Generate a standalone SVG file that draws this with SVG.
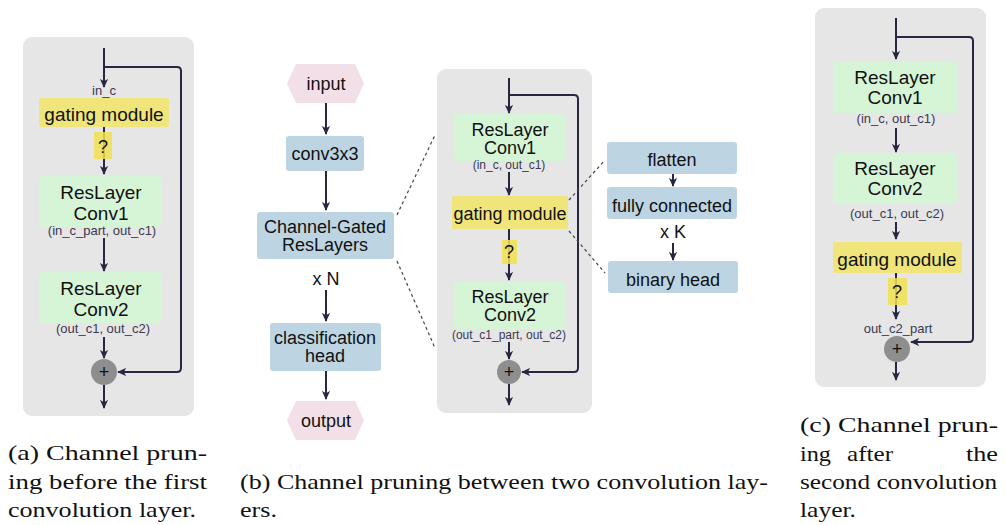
<svg xmlns="http://www.w3.org/2000/svg" width="1006" height="525" viewBox="0 0 1006 525">
<style>
.bg{fill:#e6e6e6}
.green{fill:#d6f5d6}
.yellow{fill:#f0e57a}
.q{fill:#f0e050;fill-opacity:0.85}
.blue{fill:#bdd5e3}
.pink{fill:#f2dfe7}
.plus{fill:#8e8e8e}
.t{font-family:"Liberation Sans",Arial,sans-serif;fill:#111;text-anchor:middle}
.big{font-size:19px}
.mid{font-size:18px}
.sm{font-size:13px;fill:#3a3a50}
.sm12{font-size:12px;fill:#3a3a50}
.line{stroke:#272742;stroke-width:2;fill:none}
.arr{stroke:#272742;stroke-width:2;fill:none;marker-end:url(#ah)}
.dash{stroke:#444;stroke-width:1.2;stroke-dasharray:3,3;fill:none}
.cap{font-family:"Liberation Serif","Times New Roman",serif;font-size:21px;fill:#111}
</style>
<defs>
<marker id="ah" viewBox="0 0 10 10" refX="9" refY="5" markerWidth="9" markerHeight="9" markerUnits="userSpaceOnUse" orient="auto">
<path d="M0,0.5 L10,5 L0,9.5 L2.5,5 z" fill="#272742"/>
</marker>
</defs>

<!-- Panel (a) -->
<g id="panelA">
<rect class="bg" x="23" y="37" width="171" height="379" rx="9"/>
</g>
<g id="connectorsA">
<path class="arr" d="M104,48 V87"/>
<path class="arr" d="M104,67 H177 Q181,67 181,71 V368 Q181,372 177,372 H118"/>
<path class="arr" d="M104,127 V174"/>
<path class="arr" d="M104,238 V271"/>
<path class="arr" d="M104,337 V358"/>
<path class="arr" d="M104,385 V408"/>
</g>
<g id="a_inc"><text class="t sm" x="104" y="95">in_c</text></g>
<g id="a_gate"><rect class="yellow" x="39" y="98" width="130" height="29" rx="2"/><text class="t big" x="104" y="121">gating module</text></g>
<g id="a_q"><rect class="q" x="94" y="132" width="18" height="27"/><text class="t mid" x="103" y="153">?</text></g>
<g id="a_conv1"><rect class="green" x="39" y="176" width="123" height="51" rx="3"/><text class="t big" x="101" y="199">ResLayer</text><text class="t big" x="101" y="220">Conv1</text><text class="t sm" x="102" y="235">(in_c_part, out_c1)</text></g>
<g id="a_conv2"><rect class="green" x="39" y="272" width="123" height="51" rx="3"/><text class="t big" x="101" y="295">ResLayer</text><text class="t big" x="101" y="316">Conv2</text><text class="t sm" x="103" y="333">(out_c1, out_c2)</text></g>
<g id="a_plus"><circle class="plus" cx="104" cy="372" r="13"/><text class="t mid" x="104" y="378">+</text></g>

<!-- Panel (b) left column -->
<g id="connectorsB1">
<path class="arr" d="M326,103 V134"/>
<path class="arr" d="M326,171 V210"/>
<path class="arr" d="M326,290 V321"/>
<path class="arr" d="M326,371 V399"/>
<path class="dash" d="M397,215 L435,135"/>
<path class="dash" d="M397,261 L435,348"/>
</g>
<g id="b_input"><polygon class="pink" points="287,83.5 296,64 355,64 364,83.5 355,103 296,103"/><text class="t mid" x="326" y="90">input</text></g>
<g id="b_conv"><rect class="blue" x="286" y="136" width="78" height="35" rx="3"/><text class="t mid" x="325" y="160">conv3x3</text></g>
<g id="b_cg"><rect class="blue" x="257" y="212" width="137" height="47" rx="3"/><text class="t mid" x="325" y="233">Channel-Gated</text><text class="t mid" x="325" y="251">ResLayers</text></g>
<g id="b_xn"><text class="t mid" x="326" y="285">x N</text></g>
<g id="b_cls"><rect class="blue" x="270" y="323" width="111" height="48" rx="3"/><text class="t mid" x="325" y="344">classification</text><text class="t mid" x="325" y="362">head</text></g>
<g id="b_output"><polygon class="pink" points="287,420.5 296,401 355,401 364,420.5 355,440 296,440"/><text class="t mid" x="326" y="427">output</text></g>

<!-- Panel (b) block -->
<g id="panelB"><rect class="bg" x="437" y="69" width="155" height="344" rx="9"/></g>
<g id="connectorsB2">
<path class="arr" d="M509,78 V113"/>
<path class="arr" d="M509,95 H574 Q578,95 578,99 V368 Q578,372 574,372 H522"/>
<path class="arr" d="M509,172 V195"/>
<path class="arr" d="M509,229 V280"/>
<path class="arr" d="M509,342 V359"/>
<path class="arr" d="M509,384 V405"/>
<path class="arr" d="M673,174 V186"/>
<path class="arr" d="M673,243 V260"/>
<path class="dash" d="M569,200 L605,160"/>
<path class="dash" d="M569,231 L605,273"/>
</g>
<g id="b_conv1"><rect class="green" x="454" y="114" width="111" height="47" rx="3"/><text class="t mid" x="510" y="136">ResLayer</text><text class="t mid" x="510" y="154">Conv1</text><text class="t sm12" x="509" y="169">(in_c, out_c1)</text></g>
<g id="b_gate"><rect class="yellow" x="452" y="196" width="116" height="33" rx="2"/><text class="t mid" x="510" y="220">gating module</text></g>
<g id="b_q"><rect class="q" x="502" y="240" width="15" height="24"/><text class="t mid" x="509" y="258">?</text></g>
<g id="b_conv2"><rect class="green" x="454" y="282" width="111" height="47" rx="3"/><text class="t mid" x="510" y="303">ResLayer</text><text class="t mid" x="510" y="321">Conv2</text><text class="t sm12" x="509" y="339">(out_c1_part, out_c2)</text></g>
<g id="b_plus"><circle class="plus" cx="509" cy="372" r="12"/><text class="t mid" x="509" y="378">+</text></g>
<g id="b_flatten"><rect class="blue" x="607" y="142" width="130" height="32" rx="3"/><text class="t mid" x="672" y="166">flatten</text></g>
<g id="b_fc"><rect class="blue" x="607" y="187" width="130" height="32" rx="3"/><text class="t mid" x="672" y="212">fully connected</text></g>
<g id="b_xk"><text class="t mid" x="673" y="238">x K</text></g>
<g id="b_bin"><rect class="blue" x="608" y="261" width="130" height="32" rx="3"/><text class="t mid" x="673" y="286">binary head</text></g>

<!-- Panel (c) -->
<g id="panelC"><rect class="bg" x="815" y="8" width="171" height="379" rx="9"/></g>
<g id="connectorsC">
<path class="arr" d="M896,18 V59"/>
<path class="arr" d="M896,37 H969 Q973,37 973,41 V338 Q973,342 969,342 H911"/>
<path class="arr" d="M896,128 V152"/>
<path class="arr" d="M896,222 V239"/>
<path class="arr" d="M896,273 V319"/>
<path class="arr" d="M896,362 V380"/>
</g>
<g id="c_conv1"><rect class="green" x="833" y="62" width="124" height="51" rx="3"/><text class="t big" x="895" y="84">ResLayer</text><text class="t big" x="895" y="104">Conv1</text><text class="t sm" x="896" y="123">(in_c, out_c1)</text></g>
<g id="c_conv2"><rect class="green" x="833" y="153" width="124" height="50" rx="3"/><text class="t big" x="895" y="175">ResLayer</text><text class="t big" x="895" y="195">Conv2</text><text class="t sm" x="897" y="218">(out_c1, out_c2)</text></g>
<g id="c_gate"><rect class="yellow" x="833" y="242" width="129" height="31" rx="2"/><text class="t big" x="897" y="266">gating module</text></g>
<g id="c_q"><rect class="q" x="888" y="278" width="19" height="27"/><text class="t mid" x="897" y="298">?</text></g>
<g id="c_out"><text class="t sm" x="898" y="333">out_c2_part</text></g>
<g id="c_plus"><circle class="plus" cx="897" cy="349" r="13"/><text class="t mid" x="897" y="355">+</text></g>

<!-- Captions -->
<g id="captions">
<text class="cap" x="8" y="460" textLength="199" lengthAdjust="spacingAndGlyphs">(a) Channel prun-</text>
<text class="cap" x="8" y="489" textLength="199" lengthAdjust="spacingAndGlyphs">ing before the first</text>
<text class="cap" x="8" y="517" textLength="188" lengthAdjust="spacingAndGlyphs">convolution layer.</text>
<text class="cap" x="240" y="489" textLength="528" lengthAdjust="spacingAndGlyphs">(b) Channel pruning between two convolution lay-</text>
<text class="cap" x="240" y="517" textLength="37" lengthAdjust="spacingAndGlyphs">ers.</text>
<text class="cap" x="800" y="432" textLength="198" lengthAdjust="spacingAndGlyphs">(c) Channel prun-</text>
<text class="cap" x="800" y="461" textLength="31" lengthAdjust="spacingAndGlyphs">ing</text>
<text class="cap" x="870" y="461" text-anchor="middle" textLength="46" lengthAdjust="spacingAndGlyphs">after</text>
<text class="cap" x="998" y="461" text-anchor="end" textLength="32" lengthAdjust="spacingAndGlyphs">the</text>
<text class="cap" x="800" y="489" textLength="197" lengthAdjust="spacingAndGlyphs">second convolution</text>
<text class="cap" x="800" y="517" textLength="56" lengthAdjust="spacingAndGlyphs">layer.</text>
</g>
</svg>
